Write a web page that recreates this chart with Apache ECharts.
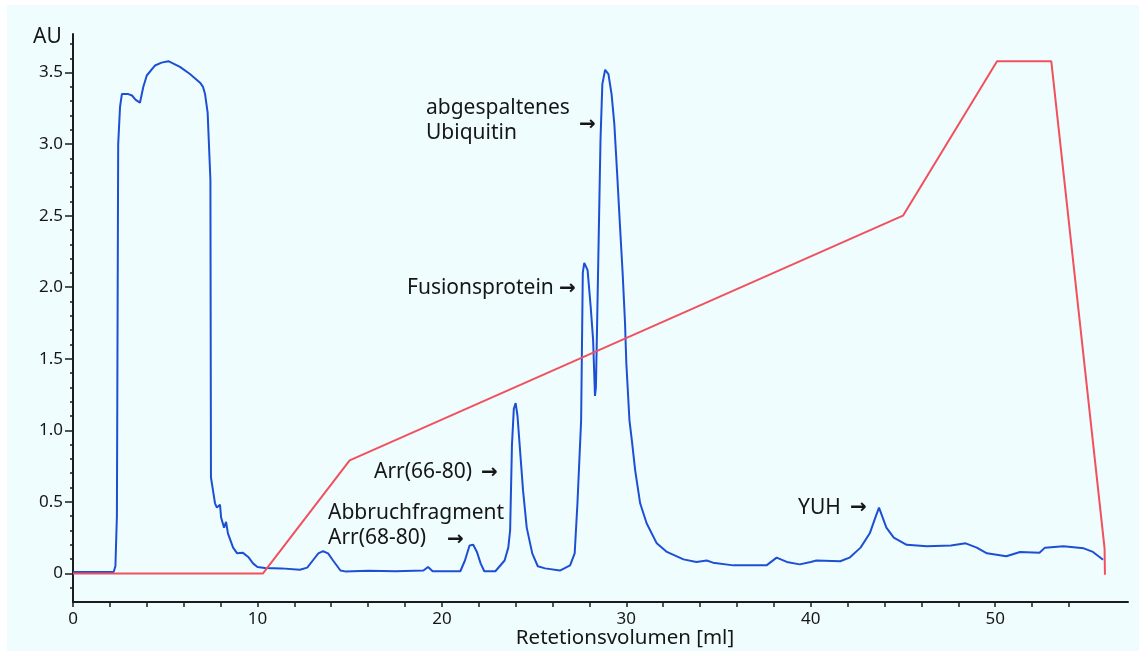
<!DOCTYPE html>
<html>
<head>
<meta charset="utf-8">
<script src="https://cdn.jsdelivr.net/npm/echarts@6/dist/echarts.min.js"></script>
<style>
html,body{margin:0;padding:0;background:#ffffff;}
#chart{width:1139px;height:651px;}
</style>
</head>
<body>
<div id="chart"></div>
<script>
// ---- data ----
var uvVolume = [0,2.2,2.3,2.38,2.45,2.55,2.65,3.0,3.2,3.4,3.63,3.81,4.0,4.45,4.8,5.17,5.5,5.8,6.34,6.89,7.05,7.16,7.3,7.45,7.48,7.59,7.7,7.8,7.97,8.03,8.19,8.3,8.4,8.68,8.9,9.2,9.5,9.76,10.0,10.4,11.3,12.3,12.7,13.0,13.3,13.56,13.83,14.1,14.5,14.75,16.0,17.5,19.0,19.25,19.5,21.0,21.25,21.5,21.7,21.9,22.1,22.3,22.9,23.4,23.6,23.7,23.8,23.9,24.0,24.1,24.25,24.4,24.6,24.9,25.2,25.6,26.4,26.95,27.2,27.35,27.55,27.64,27.72,27.82,27.9,28.07,28.2,28.3,28.35,28.4,28.5,28.6,28.7,28.85,29.03,29.2,29.35,29.5,29.66,29.8,29.93,30.0,30.17,30.3,30.48,30.75,31.1,31.65,32.2,33.1,33.8,34.36,34.7,35.8,37.6,38.15,38.7,39.4,40.0,40.3,41.6,42.1,42.7,43.2,43.5,43.7,43.9,44.1,44.5,45.2,46.3,47.6,48.4,49.0,49.55,50.6,51.35,52.4,52.7,53.7,54.8,55.3,55.85];
var uvAbsorbance = [0.01,0.01,0.05,0.4,3.0,3.26,3.35,3.35,3.34,3.31,3.29,3.40,3.48,3.55,3.57,3.58,3.56,3.54,3.49,3.43,3.40,3.35,3.22,2.75,0.67,0.58,0.49,0.46,0.48,0.39,0.32,0.36,0.28,0.18,0.14,0.145,0.115,0.07,0.045,0.037,0.035,0.025,0.04,0.09,0.14,0.155,0.14,0.09,0.02,0.014,0.018,0.015,0.02,0.045,0.015,0.015,0.09,0.195,0.2,0.15,0.07,0.015,0.015,0.09,0.18,0.3,0.9,1.15,1.19,1.1,0.84,0.58,0.32,0.14,0.05,0.035,0.02,0.056,0.14,0.49,1.07,2.1,2.17,2.17,2.12,1.86,1.63,1.24,1.3,1.63,2.33,3.03,3.42,3.52,3.49,3.35,3.14,2.8,2.42,2.1,1.75,1.47,1.07,0.93,0.72,0.49,0.35,0.21,0.15,0.098,0.08,0.09,0.075,0.056,0.056,0.11,0.08,0.063,0.08,0.09,0.085,0.11,0.18,0.28,0.39,0.46,0.39,0.32,0.25,0.2,0.19,0.195,0.21,0.18,0.14,0.12,0.15,0.145,0.18,0.19,0.175,0.15,0.095];
var gradientVolume = [0,10.3,15.0,45.0,50.1,53.04,55.93,55.95];
var gradientLevel  = [0,0,0.79,2.5,3.58,3.58,0.175,-0.01];
var xTickValues  = [0,2,4,6,8,10,12,14,16,18,20,22,24,26,28,30,32,34,36,38,40,42,44,46,48,50,52,54];
var xLabelValues = [0,10,20,30,40,50];
var yLabelValues = [0,0.5,1.0,1.5,2.0,2.5,3.0,3.5];
var yMinorValues = [-0.1,0.1,0.2,0.3,0.4,0.6,0.7,0.8,0.9,1.1,1.2,1.3,1.4,1.6,1.7,1.8,1.9,2.1,2.2,2.3,2.4,2.6,2.7,2.8,2.9,3.1,3.2,3.3,3.4,3.6,3.7];
var labelTexts = [
  {text:'abgespaltenes', x:426, y:108},
  {text:'Ubiquitin', x:426, y:133},
  {text:'Fusionsprotein', x:407, y:288},
  {text:'Arr(66-80)', x:374, y:472},
  {text:'Abbruchfragment', x:328, y:513},
  {text:'Arr(68-80)', x:328, y:538},
  {text:'YUH', x:798, y:508}
];
var arrowMarks = [
  {x:579, y:125},
  {x:559, y:289},
  {x:481, y:473},
  {x:447, y:540},
  {x:850, y:508}
];

function pairs(xs, ys){ var o=[]; for(var i=0;i<xs.length;i++){o.push([xs[i],ys[i]]);} return o; }

var FONT = '"Noto Sans", "DejaVu Sans", sans-serif';
var TXT = '#161616';
var AX = '#1c1c1c';

var graphics = [
  {type:'rect', left:7, top:5, shape:{width:1132, height:646}, style:{fill:'#effdff'}, z:-100, silent:true},
  {type:'text', left:33, top:27, style:{text:'AU', font:'21px '+FONT, fill:TXT}, z:10},
  {type:'text', x:625, y:638, style:{text:'Retetionsvolumen [ml]', font:'20.5px '+FONT, fill:TXT, textAlign:'center', textVerticalAlign:'middle'}, z:10}
];
labelTexts.forEach(function(a){
  graphics.push({type:'text', x:a.x, y:a.y, style:{text:a.text, font:'21px '+FONT, fill:TXT, textAlign:'left', textVerticalAlign:'middle'}, z:10});
});
arrowMarks.forEach(function(a){
  graphics.push({type:'text', x:a.x, y:a.y, style:{text:'\u2192', font:'bold 20px "DejaVu Sans", sans-serif', fill:TXT, textAlign:'left', textVerticalAlign:'middle'}, z:10});
});

var chart = echarts.init(document.getElementById('chart'), null, {renderer:'canvas'});
chart.setOption({
  backgroundColor:'transparent',
  animation:false,
  grid:{left:73, right:11, top:34, bottom:49, containLabel:false},
  xAxis:{
    type:'value', min:0, max:57.2,
    axisLine:{show:true, onZero:false, lineStyle:{color:AX, width:2}},
    axisTick:{show:true, length:5, customValues:xTickValues, lineStyle:{color:AX, width:1.5}},
    axisLabel:{show:true, customValues:xLabelValues, margin:9, fontFamily:'Noto Sans', fontSize:17, color:TXT,
      formatter:function(v){return String(v);}},
    splitLine:{show:false}
  },
  yAxis:[{
    type:'value', min:-0.2, max:3.77, position:'left',
    axisLine:{show:true, onZero:false, lineStyle:{color:AX, width:2}},
    axisTick:{show:true, length:8, customValues:yLabelValues, lineStyle:{color:AX, width:1.5}},
    axisLabel:{show:true, customValues:yLabelValues, margin:10, fontFamily:'Noto Sans', fontSize:17, color:TXT,
      formatter:function(v){return v===0?'0':v.toFixed(1);}},
    splitLine:{show:false}
  },{
    type:'value', min:-0.2, max:3.77, position:'left', offset:0,
    axisLine:{show:false},
    axisTick:{show:true, length:3, customValues:yMinorValues, lineStyle:{color:AX, width:1.5}},
    axisLabel:{show:false},
    splitLine:{show:false}
  }],
  series:[{
    type:'line', name:'UV', xAxisIndex:0, yAxisIndex:0,
    data:pairs(uvVolume, uvAbsorbance),
    showSymbol:false, smooth:false,
    lineStyle:{color:'#1d4fd3', width:2},
    z:2
  },{
    type:'line', name:'Gradient', xAxisIndex:0, yAxisIndex:0,
    data:pairs(gradientVolume, gradientLevel),
    showSymbol:false, smooth:false,
    lineStyle:{color:'#f2505c', width:2},
    z:3
  }],
  graphic:graphics
});
</script>
</body>
</html>
